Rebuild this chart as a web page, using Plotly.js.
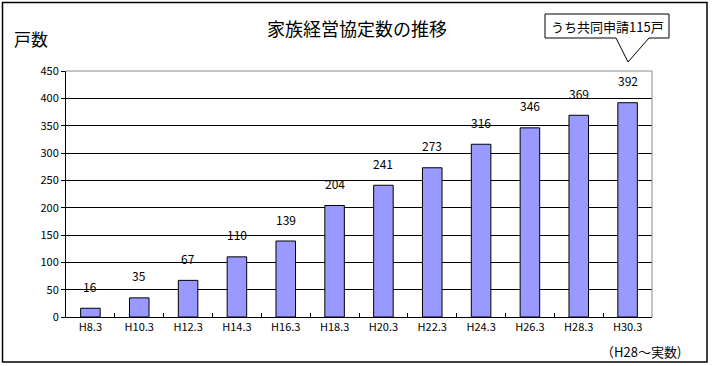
<!DOCTYPE html>
<html>
<head>
<meta charset="utf-8">
<script src="https://cdn.plot.ly/plotly-3.0.1.min.js"></script>
<style>html,body{margin:0;padding:0;background:#fff;}#chart{width:712px;height:366px;}</style>
</head>
<body>
<div id="chart"></div>
<script>
const categories = ["H8.3","H10.3","H12.3","H14.3","H16.3","H18.3","H20.3","H22.3","H24.3","H26.3","H28.3","H30.3"];
const values = [16,35,67,110,139,204,241,273,316,346,369,392];
const yTicks = [0,50,100,150,200,250,300,350,400,450];
const titleText = "家族経営協定数の推移";
const yLabel = "戸数";
const calloutText = "うち共同申請115戸";
const noteText = "（H28～実数)";

const FONT = "'Noto Sans CJK JP', 'DejaVu Sans', sans-serif";

const px2x = x => (x - 66) / 586;
const px2y = y => (317 - y) / 246;

const annotations = categories.map((c, i) => ({
  x: c, y: values[i], xref: 'x', yref: 'y',
  text: String(values[i]), showarrow: false,
  yanchor: 'middle', yshift: 22,
  font: {family: FONT, size: 12, color: '#000'}
}));
annotations.push({
  xref: 'paper', yref: 'paper', x: px2x(12), y: px2y(38),
  xanchor: 'left', yanchor: 'middle', text: yLabel, showarrow: false,
  font: {family: FONT, size: 17, color: '#000'}
});
annotations.push({
  xref: 'paper', yref: 'paper', x: px2x(607), y: px2y(26),
  xanchor: 'center', yanchor: 'middle', text: calloutText, showarrow: false,
  font: {family: FONT, size: 13, color: '#000'}
});
annotations.push({
  xref: 'paper', yref: 'paper', x: px2x(641), y: px2y(351),
  xanchor: 'center', yanchor: 'middle', text: noteText, showarrow: false,
  font: {family: FONT, size: 13, color: '#000'}
});

const shapes = [
  {type: 'rect', xref: 'paper', yref: 'paper', x0: px2x(2.5), x1: px2x(707), y0: px2y(2.5), y1: px2y(362),
   line: {color: '#000', width: 1.5}, fillcolor: 'rgba(0,0,0,0)', layer: 'below'},
  {type: 'path', xref: 'paper', yref: 'paper',
   path: `M ${px2x(66)},${px2y(71)} L ${px2x(652)},${px2y(71)} L ${px2x(652)},${px2y(317)}`,
   line: {color: '#888', width: 1}, layer: 'above'},
  {type: 'path', xref: 'paper', yref: 'paper',
   path: `M ${px2x(545)},${px2y(14)} L ${px2x(669)},${px2y(14)} L ${px2x(669)},${px2y(38)} L ${px2x(649)},${px2y(38)} L ${px2x(628)},${px2y(62)} L ${px2x(616)},${px2y(38)} L ${px2x(545)},${px2y(38)} Z`,
   line: {color: '#000', width: 1}, fillcolor: '#fff', layer: 'above'}
];

const trace = {
  type: 'bar', x: categories, y: values, width: 0.4,
  marker: {color: '#9999FF', line: {color: '#000', width: 1}},
  hoverinfo: 'none'
};

const layout = {
  width: 712, height: 366,
  margin: {l: 66, r: 60, t: 71, b: 49, pad: 0},
  paper_bgcolor: '#fff', plot_bgcolor: '#fff',
  showlegend: false,
  title: {text: titleText, x: 357/712, xanchor: 'center', y: 1 - 30/366, yanchor: 'middle',
          font: {family: FONT, size: 18, color: '#000'}},
  xaxis: {
    type: 'category', showline: true, linecolor: '#000', linewidth: 1,
    ticks: 'inside', ticklen: 4, tickcolor: '#000', tickson: 'boundaries',
    showgrid: false, tickfont: {family: FONT, size: 11, color: '#000'},
    fixedrange: true
  },
  yaxis: {
    range: [0, 450], tickvals: yTicks, ticktext: yTicks.map(String),
    showline: true, linecolor: '#000', linewidth: 1,
    ticks: 'outside', ticklen: 4, tickcolor: '#000',
    showgrid: true, gridcolor: '#000', gridwidth: 1, zeroline: false,
    tickfont: {family: FONT, size: 11, color: '#000'},
    fixedrange: true
  },
  annotations: annotations,
  shapes: shapes
};

Plotly.newPlot('chart', [trace], layout, {displayModeBar: false, staticPlot: true});
</script>
</body>
</html>
